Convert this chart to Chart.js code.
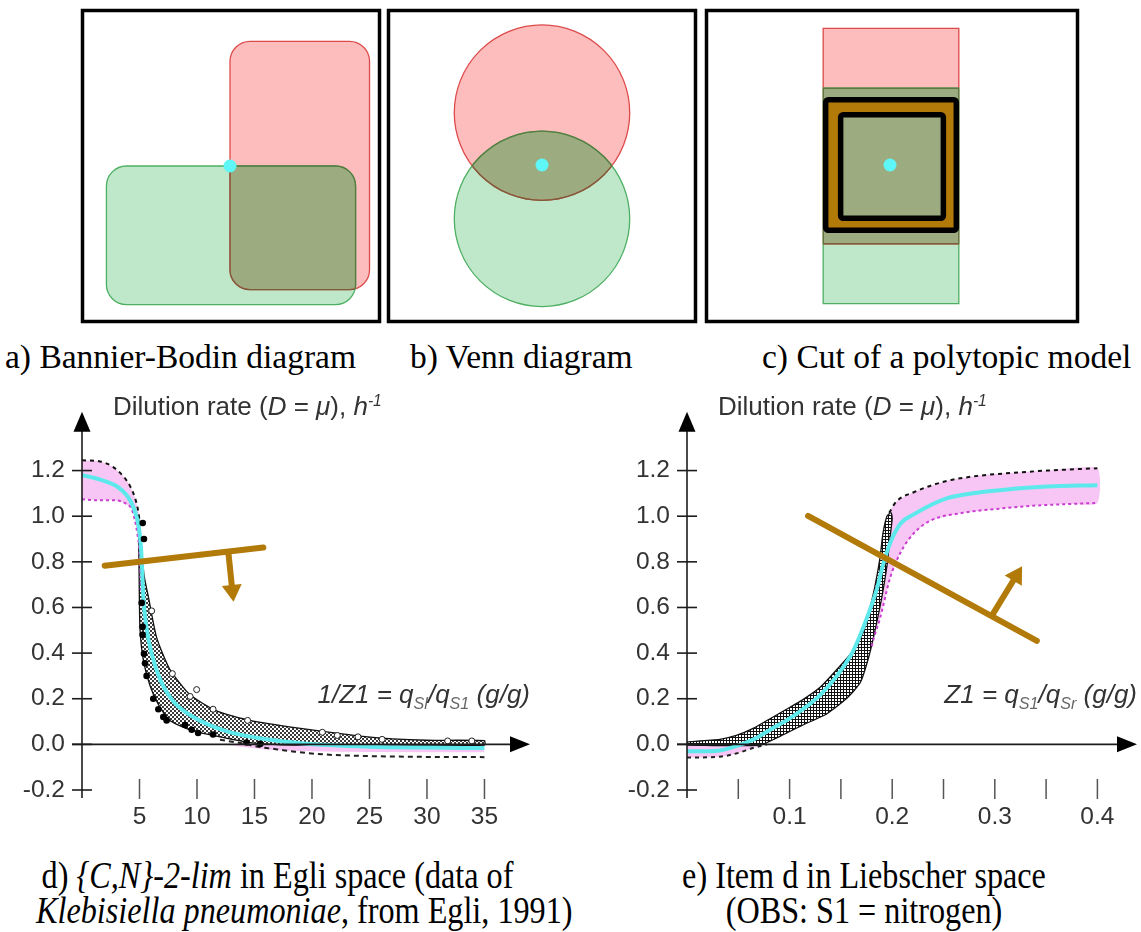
<!DOCTYPE html>
<html>
<head>
<meta charset="utf-8">
<script src="https://cdn.jsdelivr.net/npm/chart.js@4.4.1/dist/chart.umd.min.js"></script>
<style>
html, body { margin: 0; padding: 0; background: #fff; overflow: hidden; }
#fig { position: relative; width: 1141px; height: 932px; background: #fff; }
canvas { position: absolute; }
.cap { position: absolute; font-family: 'Liberation Serif', 'Times New Roman', serif; color: #000; white-space: nowrap; }
.top { font-size: 33.5px; line-height: 34px; }
.bot { font-size: 37px; line-height: 35px; text-align: center; transform: scaleX(0.87); transform-origin: 50% 50%; }
.ax { position: absolute; font-family: 'Liberation Sans', Arial, sans-serif; color: #333; white-space: nowrap; }
.yt { font-size: 26px; line-height: 26px; }
.xt { font-size: 26px; line-height: 26px; }
.ax sup { font-size: 0.6em; font-style: italic; vertical-align: 0.6em; line-height: 0; }
.ax sub { font-size: 0.62em; color: #666; vertical-align: -0.4em; line-height: 0; }
</style>
</head>
<body>
<div id="fig">
  <canvas id="pa" width="310" height="324" style="left:76px;top:4px"></canvas>
  <canvas id="pb" width="320" height="324" style="left:382px;top:4px"></canvas>
  <canvas id="pc" width="384" height="324" style="left:700px;top:4px"></canvas>
  <canvas id="cd" width="560" height="470" style="left:0px;top:380px"></canvas>
  <canvas id="ce" width="541" height="470" style="left:600px;top:380px"></canvas>

  <div class="cap top" style="left:5px;top:340px">a) Bannier-Bodin diagram</div>
  <div class="cap top" style="left:410px;top:340px">b) Venn diagram</div>
  <div class="cap top" style="left:762px;top:340px">c) Cut of a polytopic model</div>

  <div class="ax yt" style="left:113px;top:393px">Dilution rate (<i>D</i> = <i>μ</i>), <i>h</i><sup>-1</sup></div>
  <div class="ax yt" style="left:718px;top:393px">Dilution rate (<i>D</i> = <i>μ</i>), <i>h</i><sup>-1</sup></div>
  <div class="ax xt" style="right:611px;top:681px"><i>1/Z1 = q<sub>Sl</sub>/q<sub>S1</sub> (g/g)</i></div>
  <div class="ax xt" style="right:4px;top:681px"><i>Z1 = q<sub>S1</sub>/q<sub>Sr</sub> (g/g)</i></div>

  <div class="cap bot" style="left:0px;width:555px;top:858px">d) <i>{C,N}-2-lim</i> in Egli space (data of<br><i>Klebisiella pneumoniae</i>, from Egli, 1991)</div>
  <div class="cap bot" style="left:589px;width:550px;top:858px">e) Item d in Liebscher space<br>(OBS: S1 = nitrogen)</div>
</div>

<script>
// ---------- top diagrams: geometry in panel units (x0, y0, x1, y1, corner) / (cx, cy, r) ----------
const panelA = [29.8, 31.2];
const aRed   = [14.8, 3.2, 28.8, 28.1, 2.0];
const aGreen = [2.4, 1.7, 27.4, 15.6, 2.0];
const aPoint = [[14.8, 15.6]];

const panelB = [30.8, 31.2];
const bRed   = [15.4, 20.95, 8.8];
const bGreen = [15.4, 10.3, 8.8];
const bPoint = [[15.4, 15.7]];

const panelC = [37.2, 31.2];
const cRed   = [11.7, 7.8, 25.3, 29.4, 0];
const cGreen = [11.7, 1.8, 25.3, 23.4, 0];
const cOuter = [11.95, 9.15, 25.05, 22.25, 0.25];
const cInner = [13.45, 10.35, 23.75, 20.75, 0.25];
const cPoint = [[18.4, 15.7]];

// ---------- d) Egli space ----------
const dFit = [[0,1.18],[1.6,1.16],[3.05,1.13],[3.92,1.09],[4.5,1.036],[4.94,0.953],[5.1,0.88],[5.19,0.814],
  [5.33,0.647],[5.62,0.508],[6.06,0.397],[6.78,0.286],[7.94,0.189],[9.68,0.12],[12.6,0.057],[16.1,0.022],
  [19,0.005],[25,-0.01],[30,-0.014],[35,-0.016]];
const dBandUpper = [[4.9,1.0],[5.05,0.93],[5.2,0.84],[5.4,0.74],[5.77,0.647],[6.5,0.467],[7.65,0.328],[9.39,0.217],
  [11.7,0.147],[14.6,0.105],[19,0.07],[24.2,0.036],[27,0.024],[30,0.018],[35,0.016]];
const dBandLower = [[4.9,1.0],[4.95,0.82],[4.98,0.68],[5.04,0.508],[5.33,0.37],[5.91,0.258],[6.64,0.175],[7.65,0.105],
  [9.39,0.064],[11.7,0.036],[14.6,0.008],[18.4,-0.003],[25,-0.003],[35,-0.003]];
const dUpperBound = [[0,1.245],[1.57,1.24],[2.72,1.215],[3.59,1.175],[4.17,1.133],[4.61,1.08],[4.9,1.02],[5.04,0.967]];
const dLowerBound = [[0,1.074],[1.28,1.07],[2.72,1.07],[3.74,1.057],[4.32,1.03],[4.61,0.98],[4.81,0.925],[4.98,0.855],[5.08,0.75],[5.15,0.66]];
const dTailBound = [[12,0.02],[14,0.004],[15.5,-0.012],[17,-0.022],[18.5,-0.032],[21,-0.044],[24,-0.05],[28,-0.054],[35,-0.056]];
const dTailBand = [[12,0.0],[16,-0.022],[20,-0.03],[25,-0.033],[35,-0.035]];
const dFilled = [[5.28,0.97],[5.39,0.90],[5.19,0.62],[5.27,0.515],[5.27,0.48],[5.39,0.397],[5.48,0.355],[5.62,0.30],
  [6.2,0.20],[6.64,0.154],[7.07,0.12],[7.36,0.105],[8.96,0.085],[9.54,0.064],[10.1,0.05],[11.4,0.043],[14.3,0.008],[15.5,0.002]];
const dOpen = [[6.06,0.585],[7.86,0.31],[9.97,0.24],[9.4,0.21],[11.4,0.154],[14.4,0.105],[20.9,0.053],[22.2,0.039],
  [24.0,0.033],[26.1,0.022],[31.8,0.015],[33.9,0.015]];
const dCut = [[1.97,0.783],[15.77,0.8625]];
const dCutArrow = [[12.72,0.845],[13.04,0.69]];
const dXTicks = [5,10,15,20,25,30,35];
const dXTickLabels = ['5','10','15','20','25','30','35'];

// ---------- e) Liebscher space ----------
const eFit = [[0,-0.03],[0.02,-0.03],[0.032,-0.027],[0.048,-0.008],[0.065,0.022],[0.081,0.064],[0.097,0.105],
  [0.113,0.154],[0.13,0.217],[0.146,0.3],[0.162,0.41],[0.175,0.55],[0.185,0.68],[0.191,0.786],[0.198,0.883],
  [0.208,0.967],[0.221,1.008],[0.253,1.078],[0.286,1.105],[0.318,1.12],[0.351,1.13],[0.4,1.136]];
const eBandUpper = [[0,0.011],[0.032,0.022],[0.048,0.039],[0.065,0.071],[0.081,0.1125],[0.097,0.154],[0.113,0.196],
  [0.13,0.251],[0.146,0.328],[0.162,0.411],[0.172,0.494],[0.178,0.592],[0.183,0.689],[0.188,0.814],[0.191,0.925],
  [0.195,1.001],[0.199,1.015]];
const eBandLower = [[0,-0.003],[0.071,-0.003],[0.091,0.036],[0.113,0.085],[0.136,0.133],[0.156,0.203],[0.169,0.272],
  [0.178,0.397],[0.185,0.536],[0.19,0.647],[0.195,0.786],[0.198,0.911],[0.2,0.99]];
const eUpperBound = [[0.197,1.015],[0.204,1.064],[0.221,1.105],[0.253,1.154],[0.286,1.178],[0.318,1.19],[0.351,1.2],[0.4,1.21]];
const eLowerBound = [[0.18,0.43],[0.183,0.48],[0.188,0.55],[0.198,0.73],[0.208,0.84],[0.221,0.925],[0.237,0.98],
  [0.269,1.015],[0.302,1.032],[0.334,1.045],[0.37,1.053],[0.4,1.058]];
const eTailBound = [[0,-0.058],[0.032,-0.054],[0.048,-0.04],[0.065,-0.015],[0.078,0.0]];
const eCut = [[0.118,1.001],[0.341,0.454]];
const eCutArrow = [[0.297,0.563],[0.319,0.725]];
const eXTicks = [0.05,0.1,0.15,0.2,0.25,0.3,0.35,0.4];
const eXTickLabels = ['','0.1','','0.2','','0.3','','0.4'];

const yTicks = [-0.2,0,0.2,0.4,0.6,0.8,1.0,1.2];

// ---------- palette ----------
const RED_FILL = '#fdbdbd', RED_LINE = '#dd4a4a';
const GREEN_FILL = '#bfe8cb', GREEN_LINE = '#4daf62';
const OLIVE = '#9cac80';
const DOT_CYAN = '#5ef6f6';
const CYAN = '#5de9ec', PINK = '#f8c6f4', MAGENTA = '#c93ed0', BROWN = '#b27a08';

Chart.defaults.font.family = "'Liberation Sans', Arial, sans-serif";

const pts = a => a.map(([x, y]) => ({x, y}));
const ring = (up, low) => up.concat(low.slice().reverse());

// ---------- shape drawing for the top diagrams ----------
function addShape(ctx, sx, sy, kind, g) {
  if (kind === 'circle') {
    const cx = sx.getPixelForValue(g[0]), cy = sy.getPixelForValue(g[1]);
    const r = sx.getPixelForValue(g[0] + g[2]) - cx;
    ctx.moveTo(cx + r, cy);
    ctx.arc(cx, cy, r, 0, Math.PI * 2);
  } else {
    const l = sx.getPixelForValue(g[0]), r = sx.getPixelForValue(g[2]);
    const t = sy.getPixelForValue(g[3]), b = sy.getPixelForValue(g[1]);
    const rad = sx.getPixelForValue(g[4]) - sx.getPixelForValue(0);
    ctx.moveTo(l + rad, t);
    ctx.arcTo(r, t, r, b, rad);
    ctx.arcTo(r, b, l, b, rad);
    ctx.arcTo(l, b, l, t, rad);
    ctx.arcTo(l, t, r, t, rad);
    ctx.closePath();
  }
}

const vennShapes = {
  id: 'vennShapes',
  beforeDatasetsDraw(chart, args, o) {
    const {ctx, scales: {x, y}} = chart;
    const P = g => { ctx.beginPath(); addShape(ctx, x, y, o.kind, g); };
    ctx.save();
    P(o.second); ctx.fillStyle = GREEN_FILL; ctx.fill();
    P(o.first);  ctx.fillStyle = RED_FILL;   ctx.fill();
    ctx.save(); P(o.first); ctx.clip(); P(o.second); ctx.fillStyle = OLIVE; ctx.fill(); ctx.restore();
    ctx.lineWidth = 1.3;
    P(o.first);  ctx.strokeStyle = RED_LINE;   ctx.stroke();
    P(o.second); ctx.strokeStyle = GREEN_LINE; ctx.stroke();
    ctx.save(); P(o.second); ctx.clip(); P(o.first);  ctx.strokeStyle = '#7a5e3a'; ctx.stroke(); ctx.restore();
    ctx.save(); P(o.first);  ctx.clip(); P(o.second); ctx.strokeStyle = '#5a7a40'; ctx.stroke(); ctx.restore();
    if (o.ring) {
      const [outer, inner] = o.ring;
      ctx.beginPath();
      addShape(ctx, x, y, 'rect', outer);
      addShape(ctx, x, y, 'rect', inner);
      ctx.fillStyle = BROWN;
      ctx.fill('evenodd');
      ctx.lineWidth = 5.5; ctx.lineJoin = 'round'; ctx.strokeStyle = '#000';
      ctx.stroke();
    }
    ctx.restore();
  },
  afterDraw(chart) {
    const {ctx, chartArea: a} = chart;
    ctx.save();
    ctx.strokeStyle = '#000'; ctx.lineWidth = 3.5;
    ctx.strokeRect(a.left, a.top, a.right - a.left, a.bottom - a.top);
    ctx.restore();
  }
};

function diagram(id, size, point, shapeOpts) {
  return new Chart(document.getElementById(id), {
    type: 'scatter',
    data: { datasets: [{ data: pts(point), pointRadius: 6.5, pointBackgroundColor: DOT_CYAN, pointBorderWidth: 0 }] },
    options: {
      responsive: false, animation: false, devicePixelRatio: 1, events: [],
      layout: { padding: 6 },
      plugins: { legend: { display: false }, tooltip: { enabled: false }, vennShapes: shapeOpts },
      scales: {
        x: { type: 'linear', min: 0, max: size[0], display: false },
        y: { type: 'linear', min: 0, max: size[1], display: false }
      }
    },
    plugins: [vennShapes]
  });
}

diagram('pa', panelA, aPoint, { kind: 'rect', first: aRed, second: aGreen });
diagram('pb', panelB, bPoint, { kind: 'circle', first: bRed, second: bGreen });
diagram('pc', panelC, cPoint, { kind: 'rect', first: cRed, second: cGreen, ring: [cOuter, cInner] });

// ---------- axes with arrows and crossing tick marks ----------
const arrowAxes = {
  id: 'arrowAxes',
  afterDatasetsDraw(chart) {
    const {ctx, chartArea: a, scales: {x, y}} = chart;
    const x0 = x.getPixelForValue(0), y0 = y.getPixelForValue(0);
    const yb = y.getPixelForValue(y.min);
    const seg = (x1, y1, x2, y2) => { ctx.beginPath(); ctx.moveTo(x1, y1); ctx.lineTo(x2, y2); ctx.stroke(); };
    ctx.save();
    ctx.strokeStyle = '#1c1c1c'; ctx.fillStyle = '#000'; ctx.lineWidth = 1.6;
    seg(x0, yb + 8, x0, a.top + 16);
    ctx.beginPath(); ctx.moveTo(x0, a.top); ctx.lineTo(x0 - 8.5, a.top + 20); ctx.lineTo(x0 + 8.5, a.top + 20); ctx.closePath(); ctx.fill();
    seg(x0 - 10, y0, a.right - 16, y0);
    ctx.beginPath(); ctx.moveTo(a.right, y0); ctx.lineTo(a.right - 20, y0 - 8); ctx.lineTo(a.right - 20, y0 + 8); ctx.closePath(); ctx.fill();
    y.ticks.forEach(t => { const py = y.getPixelForValue(t.value); seg(x0 - 10, py, x0 + 10, py); });
    ctx.strokeStyle = '#555'; ctx.lineWidth = 1.5;
    x.ticks.forEach(t => { const px = x.getPixelForValue(t.value); seg(px, yb - 11, px, yb + 9); });
    ctx.restore();
  }
};

// ---------- arrow heads on the cut-direction stems ----------
const arrowHeads = {
  id: 'arrowHeads',
  afterDatasetsDraw(chart) {
    const ctx = chart.ctx;
    chart.data.datasets.forEach((ds, i) => {
      if (!ds.arrowHead) return;
      const p = chart.getDatasetMeta(i).data;
      const a = p[0], b = p[p.length - 1];
      const dx = b.x - a.x, dy = b.y - a.y, L = Math.hypot(dx, dy);
      const ux = dx / L, uy = dy / L, nx = -uy, ny = ux;
      const bx = b.x - ux * 2, by = b.y - uy * 2, tx = b.x + ux * 15, ty = b.y + uy * 15;
      ctx.save();
      ctx.fillStyle = ds.borderColor;
      ctx.beginPath();
      ctx.moveTo(tx, ty);
      ctx.lineTo(bx + nx * 10, by + ny * 10);
      ctx.lineTo(bx - nx * 10, by - ny * 10);
      ctx.closePath(); ctx.fill();
      ctx.restore();
    });
  }
};

function plotOptions(xMax, xTicks, xLabels, pad, yWidth) {
  const tickFont = { size: 24.5 };
  return {
    responsive: false, animation: false, devicePixelRatio: 1, events: [],
    layout: { padding: pad },
    plugins: { legend: { display: false }, tooltip: { enabled: false } },
    scales: {
      x: {
        type: 'linear', min: 0, max: xMax,
        grid: { display: false, drawTicks: false }, border: { display: false },
        afterBuildTicks: s => { s.ticks = xTicks.map(v => ({ value: v })); },
        afterFit: s => { s.height = 60; },
        ticks: { autoSkip: false, maxRotation: 0, padding: 13, color: '#333', font: tickFont,
                 callback: (v, i) => xLabels[i] }
      },
      y: {
        type: 'linear', min: -0.2, max: 1.458,
        grid: { display: false, drawTicks: false }, border: { display: false },
        afterBuildTicks: s => { s.ticks = yTicks.map(v => ({ value: v })); },
        afterFit: s => { s.width = yWidth; },
        ticks: { padding: 17, color: '#333', font: tickFont, callback: v => Number(v).toFixed(1) }
      }
    }
  };
}

function hatch(canvasId, kind) {
  const tile = document.createElement('canvas');
  tile.width = tile.height = kind === 'dots' ? 4 : 3;
  const g = tile.getContext('2d');
  g.fillStyle = '#fff'; g.fillRect(0, 0, tile.width, tile.height);
  if (kind === 'dots') { g.fillStyle = '#3a3a3a'; g.fillRect(0, 0, 2, 2); g.fillRect(2, 2, 2, 2); }
  else { g.fillStyle = '#111'; g.fillRect(0, 0, 3, 1); g.fillRect(0, 0, 1, 3); }
  return document.getElementById(canvasId).getContext('2d').createPattern(tile, 'repeat');
}

const line = (data, extra) => Object.assign({ data: pts(data), pointRadius: 0, borderWidth: 2, fill: false }, extra);

// d) chart
new Chart(document.getElementById('cd'), {
  type: 'line',
  data: { datasets: [
    line(dCut, { borderColor: BROWN, borderWidth: 6, borderCapStyle: 'round', order: 1 }),
    line(dCutArrow, { borderColor: BROWN, borderWidth: 6, borderCapStyle: 'butt', arrowHead: true, order: 1 }),
    line(dFilled, { showLine: false, pointRadius: 3.3, pointBackgroundColor: '#000', pointBorderWidth: 0, order: 3 }),
    line(dOpen, { showLine: false, pointRadius: 3, pointBackgroundColor: '#fff', pointBorderColor: '#222', pointBorderWidth: 1, order: 3 }),
    line(dFit, { borderColor: CYAN, borderWidth: 4, cubicInterpolationMode: 'monotone', order: 4 }),
    line(dUpperBound, { borderColor: '#111', borderDash: [4, 4], cubicInterpolationMode: 'monotone', order: 5 }),
    line(dLowerBound, { borderColor: MAGENTA, borderDash: [3, 3], cubicInterpolationMode: 'monotone', order: 5 }),
    line(dTailBound, { borderColor: '#222', borderDash: [5, 4], cubicInterpolationMode: 'monotone', order: 5 }),
    line(ring(dBandUpper, dBandLower), { fill: 'shape', backgroundColor: hatch('cd', 'dots'), borderColor: '#111', borderWidth: 1.3, tension: 0.2, order: 6 }),
    line(ring(dUpperBound, dLowerBound), { fill: 'shape', backgroundColor: PINK, borderWidth: 0, tension: 0.2, order: 7 }),
    line(dTailBand, { fill: { value: 0 }, backgroundColor: PINK, borderWidth: 0, cubicInterpolationMode: 'monotone', order: 7 })
  ]},
  options: plotOptions(38.96, dXTicks, dXTickLabels, { left: 0, right: 30, top: 12, bottom: 0 }, 82),
  plugins: [arrowAxes, arrowHeads]
});

// e) chart
new Chart(document.getElementById('ce'), {
  type: 'line',
  data: { datasets: [
    line(eCut, { borderColor: BROWN, borderWidth: 6, borderCapStyle: 'round', order: 1 }),
    line(eCutArrow, { borderColor: BROWN, borderWidth: 6, borderCapStyle: 'butt', arrowHead: true, order: 1 }),
    line(eFit, { borderColor: CYAN, borderWidth: 4, cubicInterpolationMode: 'monotone', order: 4 }),
    line(eUpperBound, { borderColor: '#111', borderDash: [4, 4], cubicInterpolationMode: 'monotone', order: 5 }),
    line(eLowerBound, { borderColor: MAGENTA, borderDash: [3, 3], cubicInterpolationMode: 'monotone', order: 5 }),
    line(ring(eBandUpper, eBandLower), { fill: 'shape', backgroundColor: hatch('ce', 'grid'), borderColor: '#111', borderWidth: 1.3, tension: 0.2, order: 6 }),
    line(ring(eUpperBound, eLowerBound), { fill: 'shape', backgroundColor: PINK, borderWidth: 0, tension: 0.2, order: 7 }),
    line(eTailBound, { fill: { value: 0 }, backgroundColor: PINK, borderColor: '#222', borderDash: [4, 4], cubicInterpolationMode: 'monotone', order: 7 })
  ]},
  options: plotOptions(0.4386, eXTicks, eXTickLabels, { left: 0, right: 4, top: 12, bottom: 0 }, 87),
  plugins: [arrowAxes, arrowHeads]
});
</script>
</body>
</html>
